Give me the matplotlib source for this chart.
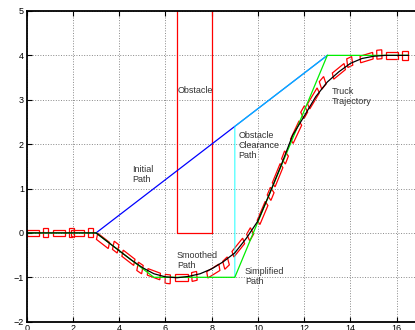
import numpy as np
import matplotlib
matplotlib.use("Agg")
import matplotlib.pyplot as plt
from matplotlib.patches import Polygon

plt.rcParams['font.family'] = ['Liberation Sans', 'DejaVu Sans']

# path waypoints
initialX = [3, 13]
initialY = [0, 4]
clearanceX = [9, 9, 13]
clearanceY = [-1, 2.4, 4]
simplifiedX = [0, 3, 5.5, 9, 13, 16.5]
simplifiedY = [0, 0, -1, -1, 4, 4]
obstacleX = [6.5, 6.5, 8, 8]
obstacleY = [6, 0, 0, 6]

smoothX = [0, 3, 3.5, 4, 4.5, 5, 5.5, 6, 6.5, 7, 7.5, 8, 8.5, 9, 9.5, 10,
           10.5, 11, 11.5, 12, 12.5, 13, 13.5, 14, 14.5, 15, 15.5, 16.5]
smoothY = [0, 0, -0.2, -0.4, -0.6, -0.78, -0.92, -0.99, -1.01, -0.98, -0.92,
           -0.81, -0.65, -0.45, -0.12, 0.27, 0.88, 1.52, 2.2, 2.63, 3.07,
           3.4, 3.63, 3.82, 3.93, 3.98, 4.0, 4.0]

# truck snapshots: trailer and cab centre + heading (deg)
trailerX = [0.27, 1.4, 2.2, 3.3, 4.4, 5.5, 6.7, 8.07, 9.15, 10.2, 10.85,
            11.65, 12.4, 13.5, 14.7, 15.8]
trailerY = [0, 0, 0, -0.18, -0.56, -0.93, -1.01, -0.86, -0.33, 0.45, 1.3,
            2.27, 3.03, 3.64, 3.95, 4.0]
trailerH = [0, 0, 0, -22, -22, -11, 0, 18, 33, 51, 52, 48, 41, 23, 9, 0]
cabX = [0.81, 1.93, 2.75, 3.85, 4.9, 6.1, 7.25, 8.62, 9.66, 10.55, 11.17,
        12.0, 12.8, 13.97, 15.25, 16.36]
cabY = [0, 0, 0, -0.32, -0.79, -1.04, -0.98, -0.68, -0.03, 0.88, 1.7,
        2.72, 3.38, 3.85, 4.02, 4.0]
cabH = [0, 0, 0, -22, -20, -3, 7, 27, 42, 52, 54, 43, 32, 14, 3, 0]

trailerLen, trailerWid = 0.55, 0.15
cabLen, cabWid = 0.22, 0.2


def boxCorners(cx, cy, heading, length, width):
    t = np.radians(heading)
    u = np.array([np.cos(t), np.sin(t)]) * length / 2
    v = np.array([-np.sin(t), np.cos(t)]) * width / 2
    c = np.array([cx, cy])
    return [c - u - v, c + u - v, c + u + v, c - u + v]


fig = plt.figure(figsize=(4.15, 3.3), dpi=100)
ax = fig.add_axes([0.0643, 0.0252, 1.003, 0.9415])

ax.plot(obstacleX, obstacleY, color='red', lw=0.9)
ax.plot(initialX, initialY, color='blue', lw=0.9)
ax.plot(clearanceX, clearanceY, color='cyan', lw=0.9, alpha=0.7)
ax.plot(simplifiedX, simplifiedY, color='#00ee00', lw=0.9)
ax.plot(smoothX, smoothY, color='black', lw=0.9)

for i in range(len(trailerX)):
    ax.add_patch(Polygon(boxCorners(trailerX[i], trailerY[i], trailerH[i],
                                    trailerLen, trailerWid),
                         closed=True, fill=False, edgecolor='red', lw=0.9))
for i in range(len(cabX)):
    ax.add_patch(Polygon(boxCorners(cabX[i], cabY[i], cabH[i],
                                    cabLen, cabWid),
                         closed=True, fill=False, edgecolor='red', lw=0.9))

txt = dict(fontsize=6.5, color='#333333', va='top', ha='left', linespacing=1.15)
ax.text(6.54, 3.3, "Obstacle", **txt)
ax.text(4.55, 1.52, "Initial\nPath", **txt)
ax.text(9.15, 2.3, "Obstacle\nClearance\nPath", **txt)
ax.text(13.19, 3.28, "Truck\nTrajectory", **txt)
ax.text(6.49, -0.4, "Smoothed\nPath", **txt)
ax.text(9.44, -0.77, "Simplified\nPath", **txt)

ax.set_xlim(0, 18)
ax.set_ylim(-2, 5)
ax.set_xticks(range(0, 19, 2))
ax.set_yticks(range(-2, 6))
ax.grid(True, linestyle=':', color='#888888', lw=0.7)
ax.tick_params(direction='in', top=True, right=True, length=3.5,
               labelsize=6.5, pad=2, width=0.8)
for s in ax.spines.values():
    s.set_linewidth(1.3)

fig.savefig("out.png", dpi=100)
